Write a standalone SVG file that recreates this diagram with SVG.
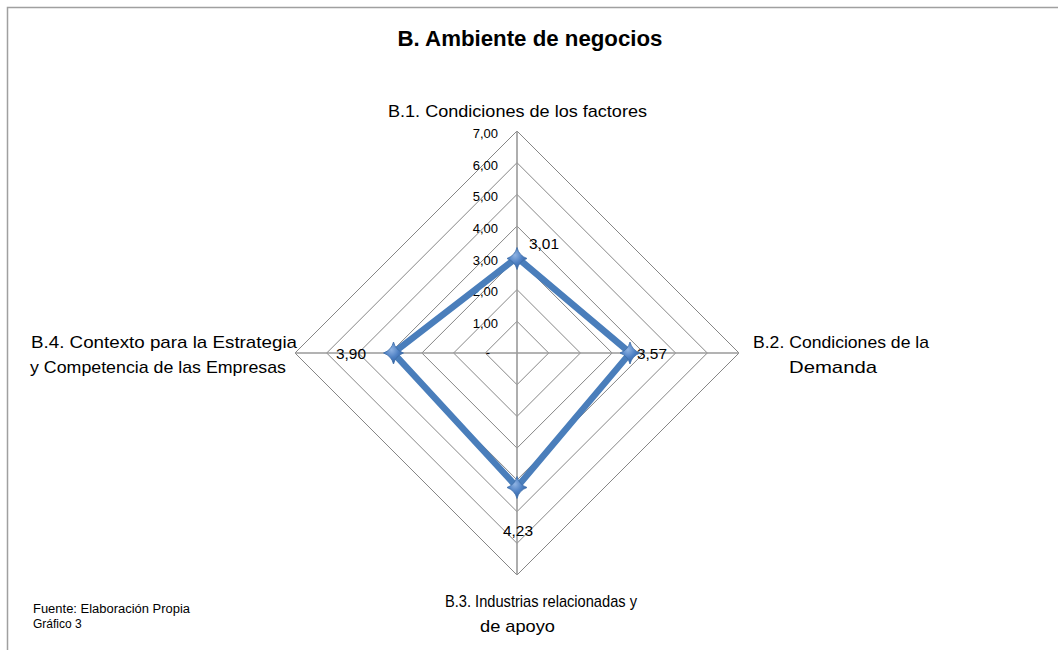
<svg xmlns="http://www.w3.org/2000/svg" width="1058" height="650" viewBox="0 0 1058 650">
<defs>
<style>
.t{font-family:"Liberation Sans",Arial,sans-serif;fill:#000}
.ring{fill:none;stroke:#868686;stroke-width:1}
.axis{stroke:#9a9a9a;stroke-width:1.6}
.tick{font-size:13px;text-anchor:end}
.lab{font-size:17px}
.dl{font-size:15px}
</style>
<radialGradient id="mg" cx="40%" cy="35%" r="70%">
<stop offset="0" stop-color="#8fb3e3"/>
<stop offset="0.5" stop-color="#4f81c4"/>
<stop offset="1" stop-color="#2f5e9c"/>
</radialGradient>
<path id="mk" d="M0,-11 Q2,-3 10,0 Q2,3 0,11 Q-2,3 -10,0 Q-2,-3 0,-11 Z"/>
</defs>
<rect x="0" y="0" width="1058" height="650" fill="#fff"/>
<path d="M7.5,650 V7.5 H1058" fill="none" stroke="#a0a0a0" stroke-width="1.5"/>
<text class="t" x="530" y="46" font-size="22" font-weight="bold" text-anchor="middle" textLength="265" lengthAdjust="spacingAndGlyphs">B. Ambiente de negocios</text>
<g id="grid">
<polygon class="ring" points="517,321.3 548.7,353 517,384.7 485.3,353"/>
<polygon class="ring" points="517,289.6 580.4,353 517,416.4 453.6,353"/>
<polygon class="ring" points="517,257.9 612.1,353 517,448.1 421.9,353"/>
<polygon class="ring" points="517,226.1 643.9,353 517,479.9 390.1,353"/>
<polygon class="ring" points="517,194.4 675.6,353 517,511.6 358.4,353"/>
<polygon class="ring" points="517,162.7 707.3,353 517,543.3 326.7,353"/>
<polygon class="ring" points="517,131 739,353 517,575 295,353"/>
<line class="axis" x1="517" y1="131" x2="517" y2="575"/>
<line class="axis" x1="295" y1="353" x2="739" y2="353"/>
</g>
<g id="ticks" class="t tick">
<text x="498" y="138">7,00</text>
<text x="498" y="169.5">6,00</text>
<text x="498" y="201.2">5,00</text>
<text x="498" y="233">4,00</text>
<text x="498" y="264.7">3,00</text>
<text x="498" y="296.4">2,00</text>
<text x="498" y="328.1">1,00</text>
<text x="490" y="357">-</text>
</g>
<g id="series">
<polygon points="517,257.5 630.2,353 517,487.1 393.3,353" fill="none" stroke="#4a7ebb" stroke-width="6.5" stroke-linejoin="miter"/>
<use href="#mk" x="517" y="258.5" fill="url(#mg)" stroke="#3d6da8" stroke-width="0.8"/>
<use href="#mk" x="630" y="353" fill="url(#mg)" stroke="#3d6da8" stroke-width="0.8"/>
<use href="#mk" x="517" y="487.5" fill="url(#mg)" stroke="#3d6da8" stroke-width="0.8"/>
<use href="#mk" x="393.5" y="353" fill="url(#mg)" stroke="#3d6da8" stroke-width="0.8"/>
</g>
<g id="datalabels" class="t dl">
<text x="529" y="249" textLength="30" lengthAdjust="spacingAndGlyphs">3,01</text>
<text x="637" y="359" textLength="30" lengthAdjust="spacingAndGlyphs">3,57</text>
<text x="336" y="359" textLength="30" lengthAdjust="spacingAndGlyphs">3,90</text>
<text x="503" y="536" textLength="30" lengthAdjust="spacingAndGlyphs">4,23</text>
</g>
<g id="b1" class="t lab"><text x="388" y="117" textLength="259" lengthAdjust="spacingAndGlyphs">B.1. Condiciones de los factores</text></g>
<g id="b2" class="t lab">
<text x="753" y="348" textLength="176" lengthAdjust="spacingAndGlyphs">B.2. Condiciones de la</text>
<text x="789" y="373" textLength="88" lengthAdjust="spacingAndGlyphs">Demanda</text>
</g>
<g id="b3" class="t lab">
<text x="445" y="607" textLength="192" lengthAdjust="spacingAndGlyphs">B.3. Industrias relacionadas y</text>
<text x="480" y="632" textLength="75" lengthAdjust="spacingAndGlyphs">de apoyo</text>
</g>
<g id="b4" class="t lab">
<text x="31" y="348" textLength="266" lengthAdjust="spacingAndGlyphs">B.4. Contexto para la Estrategia</text>
<text x="30" y="373" textLength="256" lengthAdjust="spacingAndGlyphs">y Competencia de las Empresas</text>
</g>
<g id="note" class="t" font-size="12">
<text x="33" y="613" textLength="157" lengthAdjust="spacingAndGlyphs">Fuente: Elaboración Propia</text>
<text x="33" y="628">Gráfico  3</text>
</g>
</svg>
